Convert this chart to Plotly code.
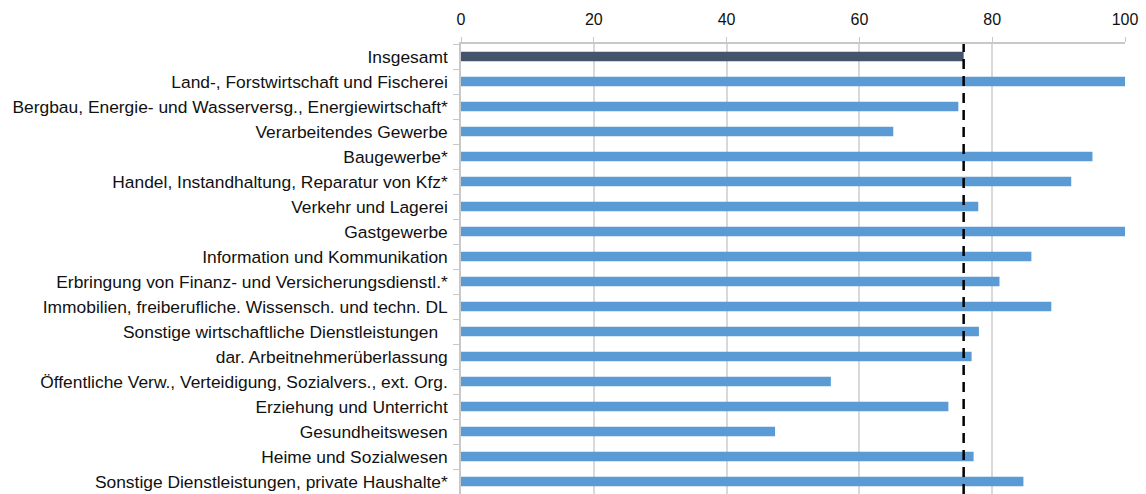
import plotly.graph_objects as go

branchen = [
    'Insgesamt',
    'Land-, Forstwirtschaft und Fischerei',
    'Bergbau, Energie- und Wasserversg., Energiewirtschaft*',
    'Verarbeitendes Gewerbe',
    'Baugewerbe*',
    'Handel, Instandhaltung, Reparatur von Kfz*',
    'Verkehr und Lagerei',
    'Gastgewerbe',
    'Information und Kommunikation',
    'Erbringung von Finanz- und Versicherungsdienstl.*',
    'Immobilien, freiberufliche. Wissensch. und techn. DL',
    'Sonstige wirtschaftliche Dienstleistungen\u00a0\u00a0',
    'dar. Arbeitnehmerüberlassung',
    'Öffentliche Verw., Verteidigung, Sozialvers., ext. Org.',
    'Erziehung und Unterricht',
    'Gesundheitswesen',
    'Heime und Sozialwesen',
    'Sonstige Dienstleistungen, private Haushalte*',
]

werte = [75.7, 100, 74.9, 65.1, 95.1, 91.9, 77.9, 100, 85.9,
         81.1, 88.9, 78.0, 76.9, 55.7, 73.4, 47.3, 77.2, 84.7]

insgesamt = werte[0]

farben = ['#44546a'] + ['#5b9bd5'] * (len(werte) - 1)

fig = go.Figure()

fig.add_trace(go.Bar(
    x=werte,
    y=branchen,
    orientation='h',
    width=0.38,
    marker=dict(color=farben, line=dict(width=0)),
    showlegend=False,
))

# gestrichelte Linie fuer den Gesamtwert
fig.add_shape(
    type='line', xref='x', yref='paper',
    x0=insgesamt, x1=insgesamt, y0=0, y1=1,
    line=dict(color='black', width=2.5, dash='10px,7px'),
)

fig.update_layout(
    width=1146,
    height=494,
    margin=dict(l=461, r=21, t=44, b=0, autoexpand=False),
    paper_bgcolor='white',
    plot_bgcolor='white',
    font=dict(family='Liberation Sans, Arial, sans-serif', size=17, color='#111111'),
)

fig.update_xaxes(
    side='top',
    range=[0, 100],
    tickvals=[0, 20, 40, 60, 80, 100],
    showgrid=True,
    gridcolor='#d9d9d9',
    gridwidth=1.5,
    showline=True,
    linecolor='#c8c8c8',
    linewidth=1.5,
    ticks='outside',
    tickcolor='#c8c8c8',
    ticklen=5,
    zeroline=False,
    tickfont=dict(size=16),
    ticklabelstandoff=6,
    automargin=False,
)

fig.update_yaxes(
    autorange='reversed',
    showline=True,
    linecolor='#c8c8c8',
    linewidth=1.5,
    ticks='outside',
    tickson='boundaries',
    tickcolor='#c8c8c8',
    ticklen=6,
    showgrid=False,
    tickfont=dict(size=17.4),
    ticklabelstandoff=8,
    automargin=False,
)

fig.write_html('out.html', config={'displayModeBar': False},
               post_script="document.body.style.margin='0';")
